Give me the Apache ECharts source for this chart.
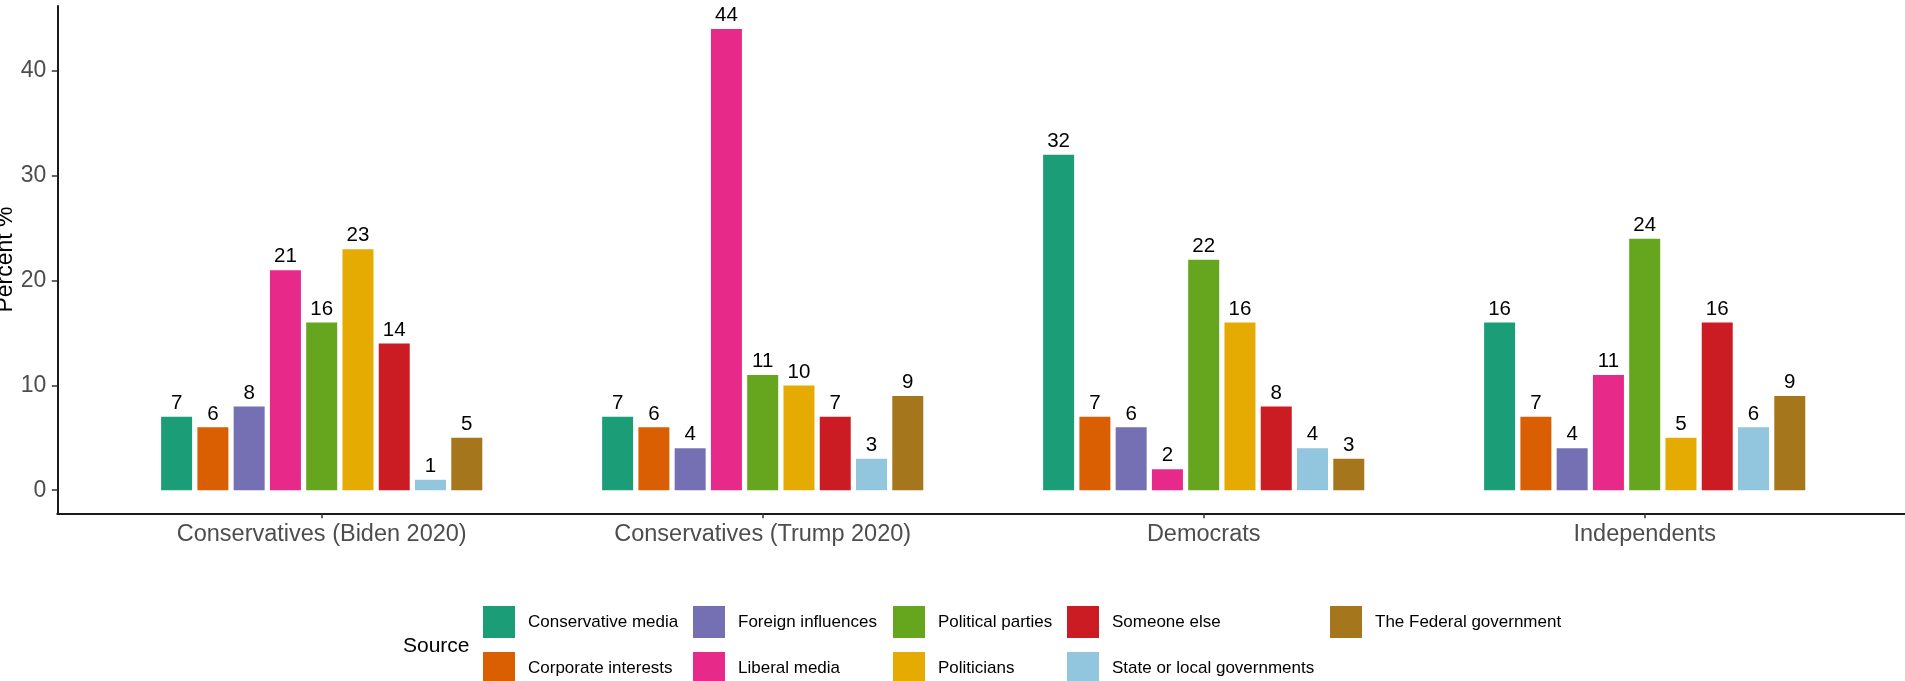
<!DOCTYPE html>
<html>
<head>
<meta charset="utf-8">
<script src="https://cdn.jsdelivr.net/npm/echarts@6/dist/echarts.min.js"></script>
<style>
html,body{margin:0;padding:0;background:#fff;}
#chart{width:1905px;height:681px;}
</style>
</head>
<body>
<div id="chart"></div>
<script>
// ---- data ----
const categories = ['Conservatives (Biden 2020)', 'Conservatives (Trump 2020)', 'Democrats', 'Independents'];
const sources = ['Conservative media', 'Corporate interests', 'Foreign influences', 'Liberal media',
  'Political parties', 'Politicians', 'Someone else', 'State or local governments', 'The Federal government'];
const conservativeMedia = [7, 7, 32, 16];
const corporateInterests = [6, 6, 7, 7];
const foreignInfluences = [8, 4, 6, 4];
const liberalMedia = [21, 44, 2, 11];
const politicalParties = [16, 11, 22, 24];
const politicians = [23, 10, 16, 5];
const someoneElse = [14, 7, 8, 16];
const stateLocalGov = [1, 3, 4, 6];
const federalGov = [5, 9, 3, 9];
const yTicks = [0, 10, 20, 30, 40];
const colors = ['#1B9E77', '#D95F02', '#7570B3', '#E7298A', '#66A61E', '#E6AB02', '#CB1B23', '#92C5DE', '#A6761D'];

const seriesValues = [conservativeMedia, corporateInterests, foreignInfluences, liberalMedia,
  politicalParties, politicians, someoneElse, stateLocalGov, federalGov];

const FONT = '"Liberation Sans", Arial, Helvetica, sans-serif';
const chart = echarts.init(document.getElementById('chart'));

const series = sources.map((name, i) => ({
  name: name,
  type: 'bar',
  xAxisIndex: 1,
  yAxisIndex: 1,
  data: seriesValues[i],
  barWidth: 31,
  barGap: '17%',
  itemStyle: { color: colors[i] },
  label: {
    show: true, position: 'top', distance: 3,
    color: '#000', fontSize: 20.5, fontFamily: FONT
  },
  emphasis: { disabled: true }
}));

const legendCols = [[0, 1], [2, 3], [4, 5], [6, 7], [8]];
const legendLeft = [483, 693, 893, 1067, 1330];
const legends = legendCols.map((idxs, c) => ({
  orient: 'vertical',
  left: legendLeft[c],
  top: 606,
  width: 60,
  height: 120,
  padding: 0,
  itemWidth: 32,
  itemHeight: 32,
  itemGap: 14,
  icon: 'rect',
  selectedMode: false,
  data: idxs.map(i => sources[i]),
  textStyle: { fontSize: 17, color: '#000', fontFamily: FONT, padding: [0, 0, 0, 8] }
}));

chart.setOption({
  animation: false,
  backgroundColor: '#fff',
  textStyle: { fontFamily: FONT },
  grid: [
    { left: 57.3, right: -30, top: 6, bottom: 167.7, containLabel: false },
    { left: 101.2, right: 39.8, top: 6, bottom: 167.7, containLabel: false }
  ],
  xAxis: [
    {
      gridIndex: 0, type: 'value', min: 0, max: 1,
      axisLine: { show: true, onZero: false, lineStyle: { color: '#1a1a1a', width: 2 } },
      axisTick: { show: false }, axisLabel: { show: false }, splitLine: { show: false }
    },
    {
      gridIndex: 1, type: 'category', data: categories, position: 'bottom',
      axisLine: { show: false, onZero: false },
      axisTick: { show: true, alignWithLabel: true, length: 5, lineStyle: { color: '#333', width: 1.5 } },
      axisLabel: { color: '#4d4d4d', fontSize: 23.5, margin: 9, fontFamily: FONT },
      splitLine: { show: false }
    }
  ],
  yAxis: [
    {
      gridIndex: 0, type: 'value', min: -2.2, max: 46.2,
      axisLine: { show: true, lineStyle: { color: '#1a1a1a', width: 2 } },
      axisTick: { show: true, customValues: yTicks, length: 5.5, lineStyle: { color: '#333', width: 1.5 } },
      axisLabel: { show: true, customValues: yTicks, color: '#4d4d4d', fontSize: 23, margin: 11, fontFamily: FONT },
      splitLine: { show: false }
    },
    {
      gridIndex: 1, type: 'value', min: -2.2, max: 46.2, show: false,
      splitLine: { show: false }
    }
  ],
  legend: legends,
  graphic: [
    {
      type: 'text', x: 6, y: 259.5, rotation: Math.PI / 2,
      style: { text: 'Percent %', fontSize: 23, fill: '#000', fontFamily: FONT, align: 'center', verticalAlign: 'middle' }
    },
    {
      type: 'text', x: 403, y: 646,
      style: { text: 'Source', fontSize: 21, fill: '#000', fontFamily: FONT, align: 'left', verticalAlign: 'middle' }
    }
  ],
  series: series
});
</script>
</body>
</html>
